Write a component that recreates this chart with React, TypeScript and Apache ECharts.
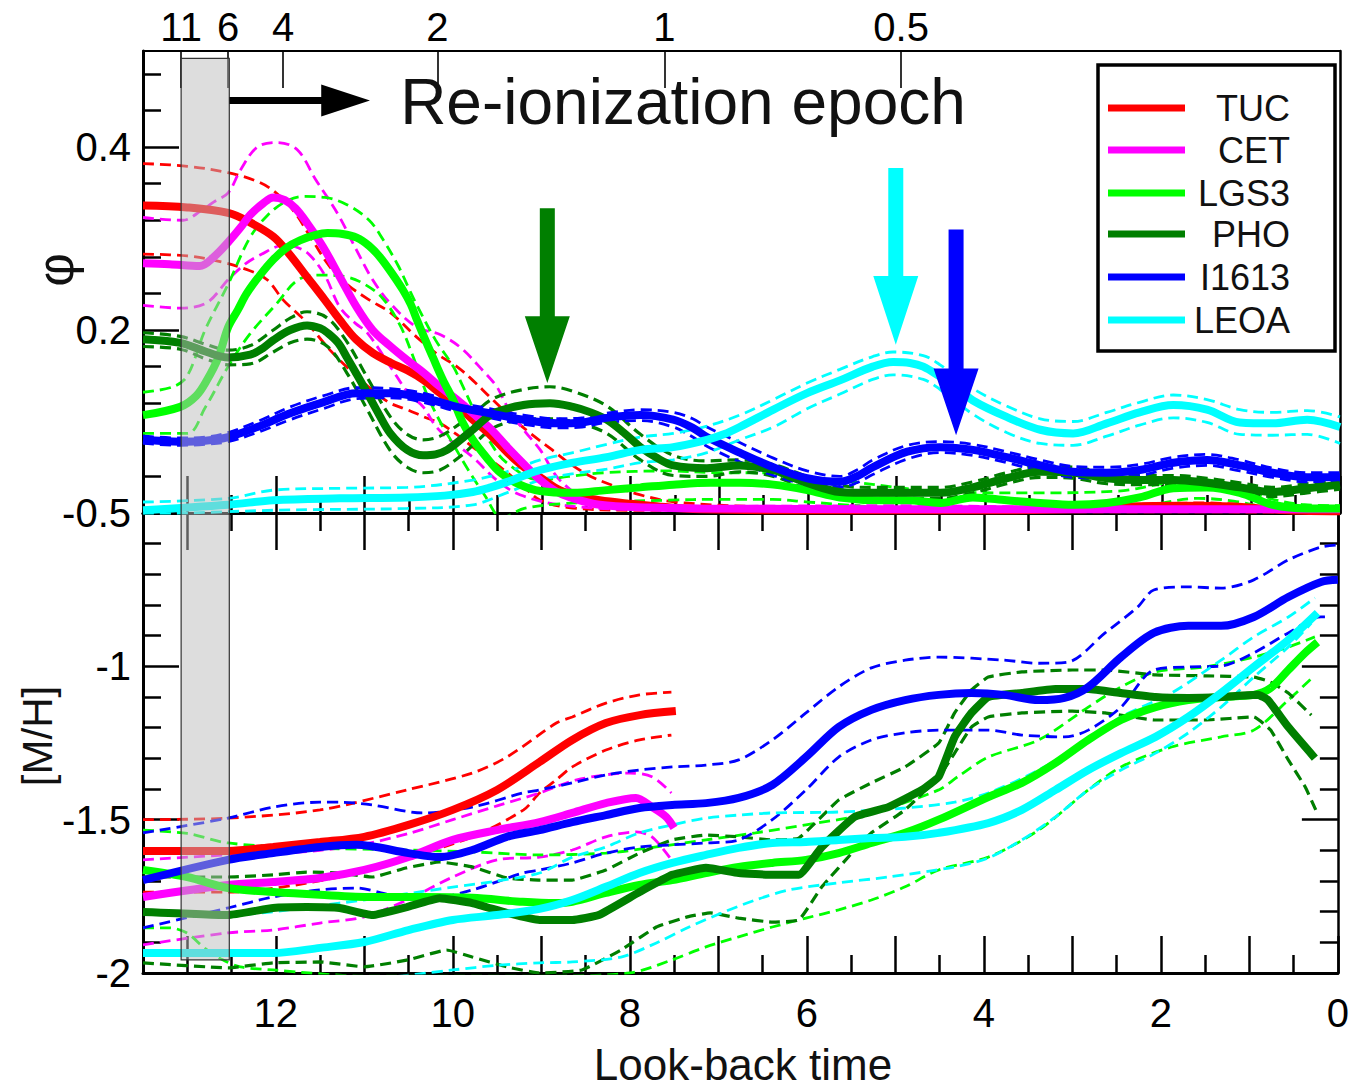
import React, { useEffect, useRef } from 'react';
import * as echarts from 'echarts';

type Pt = [number, number];

const FONT = "'Liberation Sans', Arial, Helvetica, sans-serif";

const galaxies = ['TUC', 'CET', 'LGS3', 'PHO', 'I1613', 'LEOA'];
const colors = ['#ff0000', '#ff00ff', '#00ff00', '#007f00', '#0000ff', '#00ffff'];

// look-back time (Gyr) of redshift marks on the upper axis
const redshiftLabels = ['11', '6', '4', '2', '1', '0.5'];
const redshiftLookback = [13.07, 12.54, 11.92, 10.18, 7.62, 4.95];

const yearTicks = [0, 1, 2, 3, 4, 5, 6, 7, 8, 9, 10, 11, 12, 13];
const yearHalfTicks = [0.5, 1.5, 2.5, 3.5, 4.5, 5.5, 6.5, 7.5, 8.5, 9.5, 10.5, 11.5, 12.5];
const yearLabels = [0, 2, 4, 6, 8, 10, 12];
const sfrTicks = [0, 0.2, 0.4];
const sfrMinorTicks = [0.04, 0.08, 0.12, 0.16, 0.24, 0.28, 0.32, 0.36, 0.44, 0.48];
const sfrLabels = [0.2, 0.4];
const mhTicks = [-2, -1.5, -1, -0.5];
const mhMinorTicks = [-1.9, -1.8, -1.7, -1.6, -1.4, -1.3, -1.2, -1.1, -0.9, -0.8, -0.7, -0.6];

// ---- star formation rate, phi(t) ----
const tucSfr: Pt[] = [[13.5,0.336],[13.0,0.334],[12.54,0.328],[12.3,0.318],[12.03,0.302],[11.85,0.283],[11.65,0.258],[11.45,0.233],[11.28,0.211],[11.1,0.19],[10.91,0.175],[10.7,0.164],[10.52,0.156],[10.33,0.145],[10.15,0.131],[9.95,0.117],[9.78,0.102],[9.58,0.085],[9.39,0.066],[9.2,0.05],[9.02,0.039],[8.8,0.025],[8.55,0.018],[8.35,0.014],[8.0,0.010],[7.78,0.008],[7.22,0.004],[6.0,0.003],[4.0,0.003],[3.0,0.004],[2.4,0.007],[1.8,0.008],[1.2,0.007],[0.6,0.003],[0,0.002]];
const tucSfrHi: Pt[] = [[13.5,0.382],[13.0,0.379],[12.54,0.372],[12.2,0.362],[12.0,0.35],[11.8,0.33],[11.6,0.30],[11.4,0.27],[11.2,0.25],[10.95,0.233],[10.71,0.219],[10.41,0.192],[10.2,0.175],[9.96,0.16],[9.78,0.145],[9.59,0.127],[9.35,0.105],[9.13,0.087],[8.9,0.07],[8.7,0.055],[8.45,0.04],[8.2,0.03],[7.9,0.02],[7.5,0.012],[6.5,0.007],[4,0.006],[2.5,0.009],[1.5,0.011],[0.7,0.006],[0,0.004]];
const tucSfrLo: Pt[] = [[13.5,0.283],[13.0,0.281],[12.6,0.274],[12.3,0.265],[12.1,0.255],[11.92,0.233],[11.78,0.22],[11.65,0.208],[11.39,0.178],[11.15,0.155],[10.91,0.134],[10.71,0.12],[10.52,0.113],[10.33,0.105],[10.15,0.098],[9.95,0.085],[9.78,0.072],[9.58,0.058],[9.39,0.044],[9.2,0.028],[9.02,0.014],[8.7,0.006],[8,0.003],[0,0.001]];

const cetSfr: Pt[] = [[13.5,0.273],[13.2,0.272],[12.86,0.270],[12.7,0.28],[12.54,0.296],[12.4,0.312],[12.29,0.326],[12.15,0.338],[12.03,0.345],[11.9,0.342],[11.78,0.333],[11.65,0.317],[11.47,0.291],[11.28,0.258],[11.09,0.225],[10.91,0.200],[10.72,0.183],[10.52,0.167],[10.33,0.153],[10.15,0.138],[9.96,0.124],[9.78,0.109],[9.58,0.092],[9.39,0.072],[9.2,0.053],[9.02,0.036],[8.85,0.024],[8.68,0.017],[8.35,0.009],[7.8,0.006],[7.22,0.005],[5,0.004],[0,0.004]];
const cetSfrHi: Pt[] = [[13.5,0.323],[13.05,0.320],[12.85,0.33],[12.7,0.34],[12.54,0.350],[12.4,0.375],[12.21,0.40],[11.99,0.405],[11.76,0.397],[11.55,0.364],[11.42,0.345],[11.28,0.323],[11.09,0.287],[10.91,0.255],[10.71,0.229],[10.41,0.203],[10.15,0.195],[9.92,0.181],[9.67,0.156],[9.51,0.138],[9.39,0.116],[9.2,0.09],[9.02,0.069],[8.8,0.036],[8.46,0.014],[7.78,0.007],[5,0.008],[3,0.006],[0,0.005]];
const cetSfrLo: Pt[] = [[13.5,0.227],[13.08,0.224],[12.78,0.230],[12.54,0.255],[12.35,0.272],[12.18,0.282],[11.9,0.293],[11.75,0.29],[11.62,0.282],[11.45,0.26],[11.28,0.225],[11.1,0.207],[10.97,0.197],[10.71,0.160],[10.5,0.13],[10.34,0.116],[10.2,0.095],[10.04,0.080],[9.78,0.061],[9.5,0.035],[9.25,0.020],[8.8,0.009],[8,0.004],[0,0.002]];

const lgs3Sfr: Pt[] = [[13.5,0.107],[13.08,0.116],[12.9,0.128],[12.78,0.145],[12.65,0.17],[12.54,0.203],[12.43,0.222],[12.33,0.240],[12.18,0.26],[12.03,0.277],[11.88,0.29],[11.73,0.298],[11.55,0.304],[11.42,0.306],[11.25,0.305],[11.09,0.301],[10.95,0.292],[10.83,0.280],[10.7,0.263],[10.57,0.244],[10.48,0.228],[10.41,0.211],[10.32,0.19],[10.23,0.170],[10.12,0.146],[10.0,0.123],[9.9,0.1],[9.78,0.080],[9.62,0.06],[9.47,0.044],[9.25,0.031],[9.02,0.024],[8.65,0.022],[8.27,0.025],[7.89,0.028],[7.52,0.031],[7.1,0.033],[6.77,0.033],[6.39,0.031],[6.01,0.025],[5.64,0.017],[5.2,0.014],[4.88,0.014],[4.51,0.011],[4.14,0.017],[3.76,0.014],[3.38,0.011],[3.01,0.009],[2.63,0.011],[2.26,0.017],[1.88,0.027],[1.5,0.028],[1.13,0.022],[0.76,0.009],[0.37,0.005],[0,0.005]];
const lgs3SfrHi: Pt[] = [[13.5,0.132],[13.16,0.138],[13.0,0.15],[12.8,0.2],[12.54,0.25],[12.3,0.3],[12.1,0.325],[11.9,0.34],[11.7,0.346],[11.45,0.345],[11.2,0.337],[10.95,0.32],[10.8,0.3],[10.62,0.27],[10.5,0.245],[10.4,0.225],[10.2,0.189],[10.0,0.16],[9.9,0.14],[9.78,0.115],[9.6,0.08],[9.4,0.055],[9.02,0.036],[8.7,0.04],[8.3,0.044],[7.6,0.046],[7.0,0.044],[6.39,0.044],[6.0,0.039],[5.5,0.034],[5.0,0.028],[4.5,0.023],[3.5,0.022],[2.5,0.024],[2.0,0.032],[1.6,0.037],[1.2,0.03],[0.8,0.016],[0.4,0.009],[0,0.008]];
const lgs3SfrLo: Pt[] = [[13.5,0.087],[13.0,0.087],[12.8,0.115],[12.54,0.16],[12.3,0.195],[12.0,0.228],[11.75,0.255],[11.5,0.26],[11.2,0.258],[11.0,0.25],[10.8,0.235],[10.6,0.205],[10.45,0.17],[10.3,0.13],[10.15,0.1],[10.0,0.075],[9.85,0.05],[9.65,0.02],[9.45,-0.005],[9.2,0.005],[8.8,0.01],[8.3,0.012],[7.6,0.014],[7.0,0.015],[6.4,0.015],[6.0,0.012],[5.0,0.006],[4.0,0.006],[3.0,0.004],[2.2,0.008],[1.6,0.016],[1.2,0.013],[0.7,0.004],[0,0.002]];

const phoSfr: Pt[] = [[13.5,0.190],[13.08,0.186],[12.78,0.176],[12.54,0.170],[12.29,0.173],[12.15,0.18],[12.03,0.189],[11.84,0.2],[11.65,0.205],[11.5,0.202],[11.42,0.197],[11.3,0.186],[11.2,0.170],[11.08,0.15],[10.97,0.131],[10.84,0.108],[10.71,0.087],[10.52,0.069],[10.34,0.063],[10.2,0.064],[10.07,0.069],[9.92,0.08],[9.78,0.091],[9.55,0.109],[9.21,0.118],[8.91,0.12],[8.65,0.116],[8.45,0.11],[8.27,0.102],[8.08,0.088],[7.89,0.072],[7.7,0.06],[7.52,0.052],[7.14,0.049],[6.77,0.052],[6.39,0.047],[6.2,0.04],[6.01,0.033],[5.64,0.023],[5.27,0.022],[4.51,0.022],[4.14,0.028],[3.76,0.038],[3.38,0.045],[3.01,0.044],[2.63,0.038],[2.26,0.036],[1.88,0.036],[1.5,0.033],[1.13,0.028],[0.76,0.023],[0.37,0.027],[0,0.031]];
const phoSfrHi: Pt[] = [[13.5,0.197],[13.08,0.193],[12.78,0.184],[12.54,0.178],[12.29,0.183],[12.03,0.2],[11.84,0.213],[11.65,0.22],[11.42,0.213],[11.2,0.187],[10.97,0.148],[10.71,0.105],[10.52,0.086],[10.34,0.08],[10.15,0.084],[9.92,0.098],[9.78,0.108],[9.55,0.125],[9.21,0.135],[8.91,0.138],[8.65,0.133],[8.27,0.117],[7.89,0.086],[7.52,0.063],[7.14,0.057],[6.77,0.058],[6.39,0.053],[6.01,0.04],[5.64,0.03],[5.27,0.028],[4.51,0.028],[4.14,0.034],[3.76,0.044],[3.38,0.051],[3.01,0.05],[2.63,0.044],[2.26,0.041],[1.88,0.041],[1.5,0.038],[1.13,0.033],[0.76,0.028],[0.37,0.032],[0,0.036]];
const phoSfrLo: Pt[] = [[13.5,0.182],[13.08,0.179],[12.78,0.168],[12.54,0.162],[12.29,0.163],[12.03,0.176],[11.84,0.186],[11.65,0.19],[11.42,0.182],[11.2,0.153],[10.97,0.113],[10.71,0.068],[10.52,0.05],[10.34,0.044],[10.15,0.047],[9.92,0.062],[9.78,0.074],[9.55,0.093],[9.21,0.102],[8.91,0.103],[8.65,0.1],[8.27,0.087],[7.89,0.058],[7.52,0.041],[7.14,0.04],[6.77,0.045],[6.39,0.04],[6.01,0.026],[5.64,0.016],[5.27,0.016],[4.51,0.016],[4.14,0.022],[3.76,0.032],[3.38,0.039],[3.01,0.038],[2.63,0.032],[2.26,0.031],[1.88,0.031],[1.5,0.028],[1.13,0.023],[0.76,0.018],[0.37,0.022],[0,0.026]];

const i1613Sfr: Pt[] = [[13.5,0.080],[13.08,0.078],[12.8,0.079],[12.54,0.083],[12.21,0.094],[11.84,0.109],[11.47,0.121],[11.09,0.131],[10.71,0.131],[10.34,0.126],[9.96,0.116],[9.59,0.109],[9.21,0.102],[8.83,0.098],[8.55,0.099],[8.27,0.104],[7.89,0.107],[7.52,0.102],[7.3,0.093],[7.14,0.083],[6.77,0.066],[6.39,0.050],[6.01,0.038],[5.64,0.034],[5.45,0.04],[5.27,0.050],[4.88,0.067],[4.51,0.072],[4.14,0.069],[3.76,0.061],[3.38,0.052],[3.01,0.045],[2.63,0.044],[2.26,0.047],[1.88,0.055],[1.5,0.058],[1.13,0.052],[0.76,0.044],[0.37,0.039],[0,0.039]];
const i1613SfrHi: Pt[] = [[13.5,0.084],[13.08,0.082],[12.8,0.083],[12.54,0.088],[12.21,0.1],[11.84,0.116],[11.47,0.128],[11.09,0.137],[10.71,0.136],[10.34,0.131],[9.96,0.121],[9.59,0.114],[9.21,0.107],[8.83,0.103],[8.55,0.104],[8.27,0.109],[7.89,0.113],[7.52,0.11],[7.3,0.103],[7.14,0.094],[6.77,0.077],[6.39,0.06],[6.01,0.046],[5.64,0.04],[5.45,0.047],[5.27,0.058],[4.88,0.074],[4.51,0.078],[4.14,0.075],[3.76,0.067],[3.38,0.058],[3.01,0.051],[2.63,0.05],[2.26,0.053],[1.88,0.061],[1.5,0.064],[1.13,0.058],[0.76,0.049],[0.37,0.044],[0,0.044]];
const i1613SfrLo: Pt[] = [[13.5,0.076],[13.08,0.074],[12.8,0.075],[12.54,0.078],[12.21,0.088],[11.84,0.102],[11.47,0.114],[11.09,0.125],[10.71,0.126],[10.34,0.121],[9.96,0.111],[9.59,0.104],[9.21,0.097],[8.83,0.093],[8.55,0.094],[8.27,0.099],[7.89,0.101],[7.52,0.094],[7.3,0.083],[7.14,0.073],[6.77,0.056],[6.39,0.041],[6.01,0.031],[5.64,0.028],[5.45,0.033],[5.27,0.042],[4.88,0.059],[4.51,0.066],[4.14,0.063],[3.76,0.055],[3.38,0.046],[3.01,0.039],[2.63,0.038],[2.26,0.041],[1.88,0.049],[1.5,0.052],[1.13,0.046],[0.76,0.039],[0.37,0.034],[0,0.034]];

const leoaSfr: Pt[] = [[13.5,0.003],[12.54,0.009],[12.03,0.014],[11.28,0.016],[10.52,0.017],[10.1,0.019],[9.78,0.023],[9.58,0.028],[9.39,0.034],[9.2,0.041],[9.02,0.047],[8.65,0.055],[8.27,0.061],[7.89,0.069],[7.52,0.072],[7.14,0.080],[6.95,0.086],[6.77,0.094],[6.39,0.113],[6.01,0.131],[5.64,0.145],[5.27,0.160],[5.04,0.165],[4.85,0.164],[4.7,0.160],[4.51,0.149],[4.3,0.136],[4.14,0.123],[3.76,0.105],[3.38,0.091],[3.01,0.087],[2.63,0.098],[2.26,0.110],[1.88,0.118],[1.5,0.113],[1.13,0.099],[0.76,0.098],[0.37,0.102],[0,0.094]];
const leoaSfrHi: Pt[] = [[13.5,0.012],[12.54,0.016],[12.03,0.025],[11.28,0.027],[10.52,0.028],[9.78,0.036],[9.4,0.045],[9.02,0.058],[8.65,0.066],[8.27,0.075],[7.89,0.083],[7.52,0.087],[7.14,0.095],[6.77,0.107],[6.39,0.124],[6.01,0.142],[5.64,0.157],[5.27,0.171],[5.04,0.176],[4.7,0.172],[4.51,0.162],[4.14,0.136],[3.76,0.117],[3.38,0.103],[3.01,0.1],[2.63,0.11],[2.26,0.121],[1.88,0.129],[1.5,0.124],[1.13,0.113],[0.76,0.11],[0.37,0.112],[0,0.105]];
const leoaSfrLo: Pt[] = [[13.5,-0.002],[12.03,0.003],[10.52,0.005],[9.78,0.009],[9.4,0.022],[9.02,0.036],[8.65,0.043],[8.27,0.048],[7.89,0.055],[7.52,0.058],[7.14,0.066],[6.77,0.08],[6.39,0.094],[6.01,0.114],[5.64,0.13],[5.27,0.146],[5.04,0.151],[4.7,0.146],[4.51,0.135],[4.14,0.108],[3.76,0.088],[3.38,0.076],[3.01,0.074],[2.63,0.084],[2.26,0.096],[1.88,0.104],[1.5,0.099],[1.13,0.086],[0.76,0.085],[0.37,0.086],[0,0.076]];

// ---- metallicity, [M/H](t) ----
const tucMh: Pt[] = [[13.5,-1.602],[12.54,-1.602],[12.03,-1.589],[11.5,-1.573],[11.0,-1.556],[10.5,-1.517],[10.0,-1.468],[9.5,-1.403],[9.02,-1.312],[8.65,-1.24],[8.27,-1.185],[7.89,-1.159],[7.48,-1.146]];
const tucMhHi: Pt[] = [[13.5,-1.5],[12.54,-1.495],[11.5,-1.468],[10.52,-1.403],[9.78,-1.348],[9.39,-1.296],[8.83,-1.185],[8.65,-1.165],[8.27,-1.12],[7.89,-1.093],[7.53,-1.084]];
const tucMhLo: Pt[] = [[13.5,-1.736],[12.54,-1.736],[11.28,-1.687],[10.52,-1.625],[9.78,-1.556],[9.2,-1.468],[9.02,-1.413],[8.83,-1.37],[8.65,-1.328],[8.27,-1.273],[7.89,-1.24],[7.53,-1.224]];

const cetMh: Pt[] = [[13.5,-1.752],[12.54,-1.713],[12.03,-1.703],[11.5,-1.69],[11.0,-1.664],[10.5,-1.622],[10.0,-1.566],[9.5,-1.534],[9.02,-1.508],[8.65,-1.478],[8.27,-1.446],[7.93,-1.429],[7.75,-1.459],[7.59,-1.491],[7.5,-1.527]];
const cetMhHi: Pt[] = [[13.5,-1.631],[12.54,-1.615],[12.0,-1.61],[11.5,-1.6],[11.0,-1.58],[10.5,-1.545],[10.0,-1.5],[9.5,-1.455],[9.02,-1.413],[8.6,-1.37],[8.0,-1.348],[7.75,-1.36],[7.53,-1.413]];
const cetMhLo: Pt[] = [[13.5,-1.908],[12.54,-1.869],[12.03,-1.86],[11.5,-1.837],[11.0,-1.817],[10.52,-1.762],[10.0,-1.687],[9.5,-1.631],[9.02,-1.622],[8.65,-1.599],[8.27,-1.556],[7.93,-1.54],[7.75,-1.556],[7.53,-1.631]];

const lgs3Mh: Pt[] = [[13.5,-1.664],[13.0,-1.687],[12.54,-1.723],[12.03,-1.736],[11.5,-1.745],[10.91,-1.752],[10.34,-1.752],[9.78,-1.755],[9.21,-1.768],[8.83,-1.772],[8.65,-1.768],[8.27,-1.739],[7.89,-1.713],[7.52,-1.697],[7.14,-1.674],[6.77,-1.654],[6.39,-1.641],[6.01,-1.631],[5.64,-1.609],[5.27,-1.576],[4.89,-1.543],[4.51,-1.5],[3.95,-1.426],[3.57,-1.38],[3.19,-1.315],[2.82,-1.24],[2.45,-1.175],[2.06,-1.133],[1.69,-1.11],[1.32,-1.1],[0.95,-1.093],[0.76,-1.071],[0.56,-1.012],[0.37,-0.956],[0.23,-0.921]];
const lgs3MhHi: Pt[] = [[13.5,-1.534],[13.0,-1.545],[12.54,-1.576],[11.65,-1.592],[10.52,-1.599],[9.78,-1.605],[9.02,-1.615],[8.27,-1.609],[7.7,-1.589],[7.14,-1.566],[6.58,-1.543],[6.01,-1.517],[5.27,-1.478],[4.51,-1.403],[4.3,-1.361],[3.95,-1.296],[3.38,-1.24],[2.82,-1.133],[2.45,-1.067],[2.06,-1.018],[1.5,-1.002],[0.95,-0.97],[0.56,-0.937],[0.26,-0.904]];
const lgs3MhLo: Pt[] = [[13.5,-1.853],[13.2,-1.853],[13.0,-1.87],[12.8,-1.92],[12.6,-1.957],[12.4,-1.98],[12.03,-1.99],[11.0,-2.01],[10.0,-2.01],[9.0,-2.01],[8.0,-2.0],[7.52,-1.957],[7.14,-1.915],[6.77,-1.882],[6.39,-1.85],[6.01,-1.821],[5.64,-1.794],[5.27,-1.762],[4.89,-1.719],[4.51,-1.664],[3.95,-1.622],[3.38,-1.534],[2.82,-1.403],[2.45,-1.328],[1.88,-1.263],[1.32,-1.23],[0.95,-1.208],[0.56,-1.11],[0.28,-1.035]];

const phoMh: Pt[] = [[13.5,-1.801],[12.54,-1.811],[12.03,-1.788],[11.65,-1.785],[11.28,-1.788],[10.91,-1.811],[10.52,-1.785],[10.15,-1.756],[9.78,-1.772],[9.39,-1.804],[9.02,-1.827],[8.65,-1.827],[8.35,-1.811],[7.89,-1.736],[7.52,-1.68],[7.14,-1.657],[6.77,-1.674],[6.39,-1.68],[6.09,-1.68],[5.83,-1.589],[5.46,-1.491],[5.08,-1.459],[4.7,-1.403],[4.51,-1.36],[4.33,-1.23],[4.14,-1.152],[3.95,-1.1],[3.57,-1.087],[3.19,-1.074],[2.82,-1.074],[2.45,-1.087],[2.06,-1.1],[1.69,-1.103],[1.32,-1.1],[0.9,-1.093],[0.79,-1.11],[0.56,-1.198],[0.26,-1.299]];
const phoMhHi: Pt[] = [[13.5,-1.687],[12.54,-1.687],[12.03,-1.68],[11.65,-1.671],[11.28,-1.674],[10.91,-1.687],[10.52,-1.657],[10.15,-1.638],[9.78,-1.654],[9.39,-1.69],[9.02,-1.697],[8.65,-1.697],[8.27,-1.664],[7.89,-1.609],[7.52,-1.566],[7.14,-1.55],[6.77,-1.556],[6.39,-1.566],[6.09,-1.56],[5.64,-1.436],[5.27,-1.38],[4.89,-1.328],[4.51,-1.25],[4.33,-1.152],[4.14,-1.077],[3.95,-1.035],[3.57,-1.018],[3.0,-1.012],[2.63,-1.012],[2.06,-1.028],[1.5,-1.031],[0.95,-1.035],[0.76,-1.051],[0.56,-1.087],[0.3,-1.159]];
const phoMhLo: Pt[] = [[13.5,-1.967],[12.54,-1.983],[12.03,-1.967],[11.5,-1.964],[11.0,-1.98],[10.5,-1.957],[10.07,-1.925],[9.78,-1.948],[9.39,-1.98],[9.02,-2.0],[8.54,-1.99],[8.1,-1.925],[7.7,-1.85],[7.35,-1.817],[7.09,-1.804],[6.77,-1.821],[6.39,-1.834],[6.09,-1.827],[5.83,-1.719],[5.46,-1.599],[5.27,-1.543],[4.89,-1.468],[4.51,-1.361],[4.33,-1.283],[4.14,-1.198],[3.95,-1.165],[3.57,-1.152],[3.0,-1.146],[2.63,-1.152],[2.06,-1.175],[1.5,-1.175],[0.95,-1.165],[0.76,-1.208],[0.56,-1.305],[0.37,-1.393],[0.25,-1.468]];

const i1613Mh: Pt[] = [[13.5,-1.697],[12.54,-1.631],[12.03,-1.609],[11.5,-1.589],[11.09,-1.582],[10.5,-1.609],[10.15,-1.622],[9.78,-1.599],[9.39,-1.556],[9.02,-1.534],[8.65,-1.508],[8.27,-1.485],[7.89,-1.462],[7.52,-1.452],[7.14,-1.446],[6.77,-1.429],[6.39,-1.387],[6.01,-1.296],[5.64,-1.198],[5.27,-1.142],[4.89,-1.11],[4.51,-1.093],[4.14,-1.087],[3.77,-1.093],[3.38,-1.11],[3.09,-1.103],[2.82,-1.067],[2.45,-0.97],[2.08,-0.891],[1.69,-0.868],[1.32,-0.868],[0.95,-0.839],[0.56,-0.774],[0.19,-0.725],[0,-0.718]];
const i1613MhHi: Pt[] = [[13.5,-1.543],[12.54,-1.495],[12.03,-1.459],[11.5,-1.443],[11.28,-1.443],[10.91,-1.452],[10.34,-1.478],[9.78,-1.459],[9.21,-1.413],[9.02,-1.403],[8.65,-1.38],[8.27,-1.354],[7.89,-1.338],[7.52,-1.328],[7.14,-1.322],[6.77,-1.305],[6.39,-1.24],[6.01,-1.152],[5.64,-1.067],[5.27,-1.005],[4.89,-0.98],[4.51,-0.97],[3.77,-0.98],[3.38,-0.99],[3.05,-0.986],[2.63,-0.891],[2.26,-0.806],[2.08,-0.751],[1.69,-0.741],[1.32,-0.745],[0.95,-0.718],[0.56,-0.653],[0.19,-0.611],[0,-0.604]];
const i1613MhLo: Pt[] = [[13.5,-1.853],[12.54,-1.788],[12.03,-1.752],[11.5,-1.729],[11.09,-1.723],[10.71,-1.745],[10.34,-1.762],[9.78,-1.729],[9.21,-1.674],[9.02,-1.664],[8.65,-1.641],[8.27,-1.609],[7.89,-1.589],[7.52,-1.582],[7.14,-1.576],[6.77,-1.566],[6.39,-1.5],[6.01,-1.403],[5.64,-1.296],[5.27,-1.24],[4.89,-1.217],[4.51,-1.208],[3.95,-1.208],[3.57,-1.224],[3.09,-1.23],[2.82,-1.208],[2.45,-1.133],[2.08,-1.012],[1.69,-1.002],[1.32,-0.999],[0.95,-0.956],[0.56,-0.891],[0.19,-0.839],[0.08,-0.839]];

const leoaMh: Pt[] = [[13.5,-1.935],[12.03,-1.935],[11.5,-1.918],[11.0,-1.899],[10.5,-1.86],[10.0,-1.827],[9.5,-1.811],[9.02,-1.791],[8.65,-1.762],[8.27,-1.719],[7.89,-1.674],[7.52,-1.641],[7.14,-1.615],[6.77,-1.592],[6.39,-1.576],[6.01,-1.573],[5.64,-1.566],[5.27,-1.56],[4.89,-1.556],[4.51,-1.543],[3.95,-1.511],[3.57,-1.468],[3.19,-1.403],[2.82,-1.338],[2.45,-1.283],[2.06,-1.23],[1.69,-1.165],[1.32,-1.087],[0.95,-1.002],[0.56,-0.914],[0.23,-0.826]];
const leoaMhHi: Pt[] = [[13.5,-1.804],[12.54,-1.81],[11.28,-1.772],[10.0,-1.72],[9.5,-1.7],[9.02,-1.674],[8.65,-1.622],[8.27,-1.589],[7.89,-1.543],[7.52,-1.517],[7.14,-1.495],[6.77,-1.485],[6.39,-1.478],[5.64,-1.475],[4.89,-1.462],[4.33,-1.443],[3.95,-1.413],[3.38,-1.338],[2.82,-1.24],[2.45,-1.165],[1.88,-1.087],[1.32,-0.98],[0.95,-0.904],[0.56,-0.839],[0.26,-0.777]];
const leoaMhLo: Pt[] = [[13.5,-2.03],[11.0,-2.02],[10.0,-1.99],[9.5,-1.975],[9.02,-1.967],[8.65,-1.964],[8.1,-1.948],[7.7,-1.902],[7.33,-1.85],[6.96,-1.804],[6.58,-1.762],[6.2,-1.729],[5.64,-1.706],[5.08,-1.687],[4.33,-1.654],[3.95,-1.625],[3.57,-1.566],[3.19,-1.491],[2.82,-1.403],[2.45,-1.338],[2.06,-1.283],[1.69,-1.217],[1.32,-1.133],[0.95,-1.035],[0.56,-0.937],[0.3,-0.859]];

const sfrSets: Pt[][][] = [
  [tucSfr, tucSfrHi, tucSfrLo],
  [cetSfr, cetSfrHi, cetSfrLo],
  [lgs3Sfr, lgs3SfrHi, lgs3SfrLo],
  [phoSfr, phoSfrHi, phoSfrLo],
  [i1613Sfr, i1613SfrHi, i1613SfrLo],
  [leoaSfr, leoaSfrHi, leoaSfrLo],
];
const mhSets: Pt[][][] = [
  [tucMh, tucMhHi, tucMhLo],
  [cetMh, cetMhHi, cetMhLo],
  [lgs3Mh, lgs3MhHi, lgs3MhLo],
  [phoMh, phoMhHi, phoMhLo],
  [i1613Mh, i1613MhHi, i1613MhLo],
  [leoaMh, leoaMhHi, leoaMhLo],
];

// down arrows marking late star-formation features: [galaxy index, time, shaft top, head base, tip]
const featureArrows: [number, number, number, number, number][] = [
  [3, 8.94, 0.333, 0.215, 0.142],
  [5, 5.01, 0.377, 0.259, 0.184],
  [4, 4.33, 0.31, 0.158, 0.085],
];
// re-ionization epoch span in look-back time
const reionStart = 13.07;
const reionEnd = 12.525;

const BLACK = '#000';

function buildSeries(): any[] {
  const out: any[] = [];
  galaxies.forEach((name, i) => {
    const color = colors[i];
    const panels: [Pt[][], number, number][] = [
      [sfrSets[i], 0, 0.35],
      [mhSets[i], 3, name === 'PHO' ? 0.12 : 0.3],
    ];
    panels.forEach(([set, axisIdx, smooth]) => {
      const [main, hi, lo] = set;
      [hi, lo].forEach((d) => {
        out.push({
          type: 'line', name, data: d, xAxisIndex: axisIdx, yAxisIndex: axisIdx,
          showSymbol: false, symbol: 'none', smooth, silent: true, z: 2,
          lineStyle: { color, width: name === 'PHO' ? 3.2 : 2.8, type: [11, 6] },
        });
      });
      out.push({
        type: 'line', name, data: main, xAxisIndex: axisIdx, yAxisIndex: axisIdx,
        showSymbol: false, symbol: 'none', smooth, silent: true, z: 3,
        lineStyle: { color, width: 8, cap: 'butt' },
      });
    });
  });
  return out;
}

const labelFont = { fontSize: 40, color: BLACK, fontFamily: FONT };

function xAxisDef(gridIndex: number, position: string, extra: any): any {
  return {
    type: 'value', gridIndex, position, min: 0, max: 13.5, inverse: true,
    splitLine: { show: false },
    axisLine: { show: false, onZero: false },
    axisTick: { show: false },
    axisLabel: { show: false },
    ...extra,
  };
}
function yAxisDef(gridIndex: number, position: string, min: number, max: number, extra: any): any {
  return {
    type: 'value', gridIndex, position, min, max,
    splitLine: { show: false },
    axisLine: { show: false, onZero: false },
    axisTick: { show: false },
    axisLabel: { show: false },
    ...extra,
  };
}

function buildOption(): any {
  const lineOn = (w: number) => ({ show: true, onZero: false, lineStyle: { color: BLACK, width: w } });
  const ticks = (vals: number[], len: number, w = 2.5) => ({
    show: true, inside: true, length: len, customValues: vals, lineStyle: { color: BLACK, width: w },
  });
  return {
    animation: false,
    backgroundColor: '#fff',
    grid: [
      { left: 143, right: 12, top: 51, height: 462 },
      { left: 143, right: 12, top: 513, height: 460 },
    ],
    xAxis: [
      xAxisDef(0, 'bottom', { axisLine: lineOn(3), axisTick: ticks(yearTicks, 37) }),
      xAxisDef(0, 'bottom', { axisTick: ticks(yearHalfTicks, 18) }),
      xAxisDef(0, 'top', {
        axisLine: lineOn(1.8),
        axisTick: ticks(redshiftLookback, 37, 1.6),
        axisLabel: {
          show: true, customValues: redshiftLookback, margin: 4, ...labelFont,
          formatter: (v: number) => {
            const k = redshiftLookback.findIndex((t) => Math.abs(t - v) < 1e-6);
            return k >= 0 ? redshiftLabels[k] : '';
          },
        },
      }),
      xAxisDef(1, 'bottom', {
        axisLine: lineOn(3), axisTick: ticks(yearTicks, 37),
        axisLabel: { show: true, customValues: yearLabels, margin: 20, ...labelFont, formatter: (v: number) => String(v) },
      }),
      xAxisDef(1, 'bottom', { axisTick: ticks(yearHalfTicks, 18) }),
      xAxisDef(1, 'top', { axisLine: lineOn(3), axisTick: ticks(yearTicks, 37) }),
      xAxisDef(1, 'top', { axisTick: ticks(yearHalfTicks, 18) }),
    ],
    yAxis: [
      yAxisDef(0, 'left', 0, 0.505, {
        axisLine: lineOn(3), axisTick: ticks(sfrTicks, 36),
        axisLabel: { show: true, customValues: sfrLabels, margin: 12, ...labelFont, formatter: (v: number) => String(v) },
      }),
      yAxisDef(0, 'left', 0, 0.505, { axisTick: ticks(sfrMinorTicks, 18) }),
      yAxisDef(0, 'right', 0, 0.505, { axisLine: lineOn(2.5) }),
      yAxisDef(1, 'left', -2, -0.5, {
        axisLine: lineOn(3), axisTick: ticks(mhTicks, 36),
        axisLabel: { show: true, customValues: mhTicks, margin: 12, ...labelFont, formatter: (v: number) => String(v) },
      }),
      yAxisDef(1, 'left', -2, -0.5, { axisTick: ticks(mhMinorTicks, 18) }),
      yAxisDef(1, 'right', -2, -0.5, { axisLine: lineOn(2.5), axisTick: ticks(mhTicks, 36) }),
      yAxisDef(1, 'right', -2, -0.5, { axisTick: ticks(mhMinorTicks, 18) }),
    ],
    series: buildSeries(),
  };
}

function buildGraphics(chart: echarts.ECharts): any[] {
  const top = (t: number, v: number) => chart.convertToPixel({ xAxisIndex: 0, yAxisIndex: 0 }, [t, v]) as number[];
  const bottom = (t: number, v: number) => chart.convertToPixel({ xAxisIndex: 3, yAxisIndex: 3 }, [t, v]) as number[];
  const els: any[] = [];

  // re-ionization band across both panels
  const a = top(reionStart, 0.497);
  const b = bottom(reionEnd, -1.957);
  els.push({
    type: 'rect', z: 50, silent: true,
    shape: { x: a[0], y: a[1], width: b[0] - a[0], height: b[1] - a[1] },
    style: { fill: 'rgba(187,187,187,0.5)', stroke: '#333', lineWidth: 1.2 },
  });

  // horizontal arrow + caption
  const p0 = top(reionEnd, 0.451);
  const pb = top(11.49, 0.451);
  const pt = top(10.94, 0.451);
  const th = 3.5, hh = 16;
  els.push({
    type: 'polygon', z: 60, silent: true,
    shape: { points: [[p0[0], p0[1] - th], [pb[0], p0[1] - th], [pb[0], p0[1] - hh], [pt[0], p0[1]], [pb[0], p0[1] + hh], [pb[0], p0[1] + th], [p0[0], p0[1] + th]] },
    style: { fill: BLACK },
  });
  const cap = top(10.6, 0.449);
  els.push({
    type: 'text', z: 60, silent: true, x: cap[0], y: cap[1],
    style: { text: 'Re-ionization epoch', fill: '#111', fontSize: 64, fontFamily: FONT, align: 'left', verticalAlign: 'middle' },
  });

  // feature arrows
  featureArrows.forEach(([gi, t, vTop, vBase, vTip]) => {
    const s = top(t, vTop), m = top(t, vBase), e = top(t, vTip);
    const x = s[0], sw = 7.5, hw = 22.5;
    els.push({
      type: 'polygon', z: 60, silent: true,
      shape: { points: [[x - sw, s[1]], [x + sw, s[1]], [x + sw, m[1]], [x + hw, m[1]], [x, e[1]], [x - hw, m[1]], [x - sw, m[1]]] },
      style: { fill: colors[gi] },
    });
  });

  // legend
  const lx = 1098, ly = 65, lw = 237, lh = 286;
  els.push({
    type: 'rect', z: 70, silent: true, shape: { x: lx, y: ly, width: lw, height: lh },
    style: { fill: '#fff', stroke: BLACK, lineWidth: 3.5 },
  });
  const rows = [108, 150, 193, 234, 277, 320];
  galaxies.forEach((name, i) => {
    els.push({
      type: 'line', z: 71, silent: true, shape: { x1: 1108, y1: rows[i], x2: 1185, y2: rows[i] },
      style: { stroke: colors[i], lineWidth: 7 },
    });
    els.push({
      type: 'text', z: 71, silent: true, x: 1290, y: rows[i],
      style: { text: name, fill: '#111', fontSize: 36, fontFamily: FONT, align: 'right', verticalAlign: 'middle' },
    });
  });

  // axis titles
  els.push({
    type: 'text', z: 60, silent: true, x: 55, y: 270, rotation: Math.PI / 2,
    style: { text: 'φ', fill: '#111', fontSize: 52, fontFamily: FONT, align: 'center', verticalAlign: 'middle' },
  });
  els.push({
    type: 'text', z: 60, silent: true, x: 37, y: 736, rotation: Math.PI / 2,
    style: { text: '[M/H]', fill: '#111', fontSize: 42, fontFamily: FONT, align: 'center', verticalAlign: 'middle' },
  });
  els.push({
    type: 'text', z: 60, silent: true, x: 743, y: 1064,
    style: { text: 'Look-back time', fill: '#111', fontSize: 44, fontFamily: FONT, align: 'center', verticalAlign: 'middle' },
  });
  return els;
}

export default function App() {
  const ref = useRef<HTMLDivElement>(null);
  useEffect(() => {
    if (!ref.current) return;
    const chart = echarts.init(ref.current, undefined, { renderer: 'svg' });
    chart.setOption(buildOption());
    chart.setOption({ graphic: { elements: buildGraphics(chart) } });
    return () => chart.dispose();
  }, []);
  return (
    <div
      ref={ref}
      style={{ position: 'fixed', left: 0, top: 0, width: 1352, height: 1092, background: '#fff' }}
    />
  );
}
